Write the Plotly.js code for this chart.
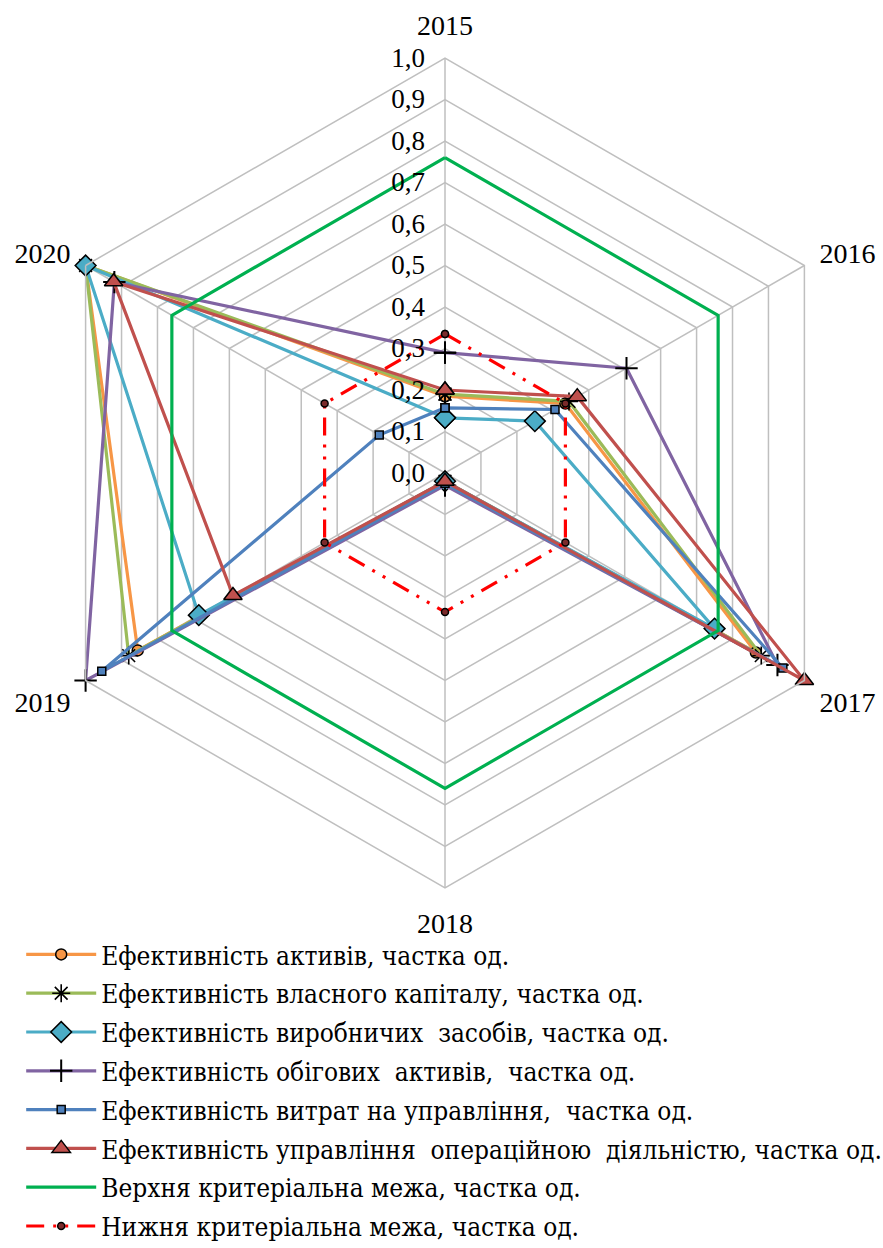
<!DOCTYPE html>
<html>
<head>
<meta charset="utf-8">
<script src="https://cdn.plot.ly/plotly-3.0.1.min.js"></script>
<style>html,body{margin:0;padding:0;background:#fff;}#chart{width:883px;height:1248px;}</style>
</head>
<body>
<div id="chart"></div>
<script>
const years = ['2015', '2016', '2017', '2018', '2019', '2020'];
const radialTicks = [0, 0.1, 0.2, 0.3, 0.4, 0.5, 0.6, 0.7, 0.8, 0.9, 1.0];

const assets      = [0.185, 0.335, 0.865, 0.02, 0.855, 1.0];
const equity      = [0.19, 0.345, 0.88, 0.02, 0.88, 1.0];
const production  = [0.133, 0.25, 0.75, 0.02, 0.685, 1.0];
const current     = [0.29, 0.505, 0.925, 0.03, 1.0, 0.92];
const mgmtCosts   = [0.157, 0.306, 0.94, 0.025, 0.955, 0.183];
const operations  = [0.2, 0.368, 1.0, 0.02, 0.59, 0.922];
const upperLimit  = [0.76, 0.76, 0.76, 0.76, 0.76, 0.76];
const lowerLimit  = [0.335, 0.335, 0.335, 0.335, 0.335, 0.335];

const names = [
  'Ефективність активів, частка од.',
  'Ефективність власного капіталу, частка од.',
  'Ефективність виробничих  засобів, частка од.',
  'Ефективність обігових  активів,  частка од.',
  'Ефективність витрат на управління,  частка од.',
  'Ефективність управління  операційною  діяльністю, частка од.',
  'Верхня критеріальна межа, частка од.',
  'Нижня критеріальна межа, частка од.'
];

function closed(a){ return a.concat([a[0]]); }
const thetaC = closed(years);
const SERIF = '"Liberation Serif", "Times New Roman", serif';
const LEGEND_FONT = '"DejaVu Serif Condensed", "Liberation Serif", serif';

const specs = [
  {r: assets, color: '#F79646', marker: {symbol: 'circle', size: 11, color: '#F79646', line: {color: '#000', width: 1.5}}},
  {r: equity, color: '#9BBB59', marker: {symbol: 'asterisk-open', size: 15, color: '#000', line: {color: '#000', width: 1.6}}},
  {r: production, color: '#4BACC6', marker: {symbol: 'diamond', size: 16, color: '#4BACC6', line: {color: '#000', width: 1.5}}},
  {r: current, color: '#8064A2', marker: {symbol: 'cross-thin-open', size: 16, color: '#000', line: {color: '#000', width: 2}}},
  {r: mgmtCosts, color: '#4F81BD', marker: {symbol: 'square', size: 8, color: '#4F81BD', line: {color: '#000', width: 1.5}}},
  {r: operations, color: '#C0504D', marker: {symbol: 'triangle-up', size: 16, color: '#C0504D', line: {color: '#000', width: 1.5}}},
  {r: upperLimit, color: '#00B050', marker: null},
  {r: lowerLimit, color: '#FF0000', marker: {symbol: 'circle', size: 7, color: '#7a2a2a', line: {color: '#000', width: 1.5}}, dash: '18px,9px,3px,9px,3px,9px'}
];

const traces = specs.map((s, i) => {
  const t = {
    type: 'scatterpolar',
    r: closed(s.r),
    theta: thetaC,
    name: names[i],
    legendgroup: 'g' + i,
    line: {color: s.color, width: 3.2, dash: s.dash || 'solid'},
    cliponaxis: false
  };
  if (s.marker) { t.mode = 'lines+markers'; t.marker = s.marker; }
  else { t.mode = 'lines'; }
  return t;
});

const layout = {
  width: 883, height: 1248,
  margin: {l: 0, r: 0, t: 0, b: 0, autoexpand: false},
  paper_bgcolor: '#fff',
  separators: ', ',
  font: {family: SERIF, size: 28, color: '#000'},
  showlegend: true,
  legend: {
    x: 0.024, xanchor: 'left', y: 1 - 931/1248, yanchor: 'top',
    font: {family: LEGEND_FONT, size: 26, color: '#000'},
    bgcolor: 'rgba(0,0,0,0)', tracegroupgap: 2, itemwidth: 70
  },
  polar: {
    domain: {x: [30/883, 860/883], y: [1 - 888/1248, 1 - 58/1248]},
    gridshape: 'linear',
    bgcolor: '#fff',
    angularaxis: {
      type: 'category',
      categoryarray: years,
      direction: 'clockwise',
      rotation: 90,
      showline: true, linecolor: '#BFBFBF', linewidth: 1.5,
      showgrid: true, gridcolor: '#BFBFBF', gridwidth: 1.5,
      ticks: 'outside', ticklen: 11, tickcolor: 'rgba(0,0,0,0)',
      tickfont: {family: SERIF, size: 28, color: '#000'}
    },
    radialaxis: {
      range: [0, 1],
      tickvals: radialTicks,
      tickformat: '.1f',
      angle: 90,
      tickangle: 90,
      side: 'counterclockwise',
      showline: false,
      showgrid: true, gridcolor: '#BFBFBF', gridwidth: 1.5,
      ticks: 'outside', ticklen: 10, tickcolor: 'rgba(0,0,0,0)',
      tickfont: {family: SERIF, size: 27, color: '#000'}
    }
  }
};

Plotly.newPlot('chart', traces, layout, {displayModeBar: false, staticPlot: true});
</script>
</body>
</html>
